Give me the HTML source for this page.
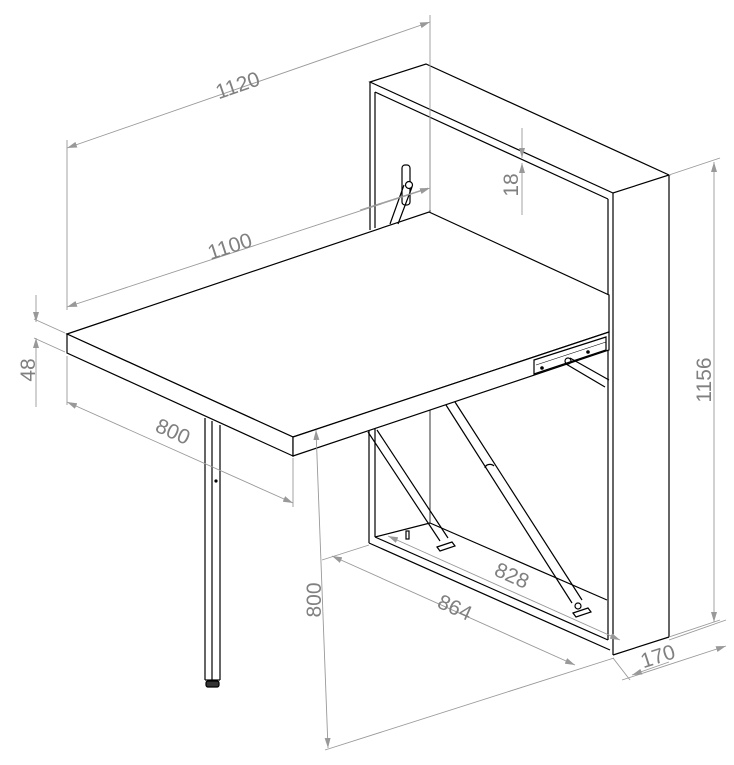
<!DOCTYPE html>
<html><head><meta charset="utf-8"><style>
html,body{margin:0;padding:0;background:#fff;}
svg{display:block;}
text{font-family:"Liberation Sans",sans-serif;font-size:21px;fill:#808080;}
</style></head><body>
<svg width="734" height="765" viewBox="0 0 734 765" xmlns="http://www.w3.org/2000/svg">
<defs>
<marker id="a" viewBox="0 0 10 6" refX="10" refY="3" markerWidth="10" markerHeight="6" orient="auto-start-reverse" markerUnits="userSpaceOnUse"><path d="M0,0 L10,3 L0,6 Z" fill="#999"/></marker>
</defs>
<g stroke="#000" stroke-width="1.2" fill="none">
<polygon points="370,82 426,64 669,175 613,193" fill="#fff"/>
<line x1="613" y1="193" x2="613" y2="655"/>
<line x1="669" y1="175" x2="669" y2="637"/>
<line x1="613" y1="655" x2="669" y2="637"/>
<line x1="370" y1="82" x2="370" y2="230"/>
<line x1="375" y1="92" x2="375" y2="228"/>
<line x1="375" y1="92" x2="608" y2="199"/>
<line x1="608" y1="199" x2="608" y2="640"/>
<line x1="430" y1="118" x2="430" y2="212" stroke-width="0.8"/>
<line x1="369" y1="430" x2="369" y2="543"/>
<line x1="375" y1="428" x2="375" y2="537"/>
<line x1="369" y1="543" x2="610" y2="650"/>
<line x1="375" y1="537" x2="608" y2="640"/>
<line x1="375" y1="537" x2="430" y2="523"/>
<line x1="430" y1="410" x2="430" y2="523" stroke-width="0.8"/>
<line x1="430" y1="523" x2="607" y2="600"/>
<polygon points="67,334 429,212 609,295 609,332 293,437" fill="#fff"/>
<polygon points="67,334 293,437 293,456 67,353" fill="#fff"/>
<polygon points="293,437 609,332 609,350 293,456" fill="#fff"/>
<polygon points="534,360 606,337 606,350 534,374" fill="#fff"/>
<line x1="536" y1="365" x2="606" y2="342" stroke-width="0.6"/>
<circle cx="542" cy="368" r="1.2" fill="#000"/><circle cx="588" cy="352" r="1.2" fill="#000"/>
<circle cx="568" cy="361" r="3"/>
<line x1="570" y1="358" x2="609" y2="380"/><line x1="566" y1="364" x2="605" y2="387"/>
<rect x="402" y="165" width="8" height="40" rx="3" fill="#fff"/>
<line x1="404" y1="185" x2="390" y2="224"/><line x1="412" y1="187" x2="398" y2="224"/>
<circle cx="409" cy="185" r="3.5" fill="#fff"/>
<line x1="368" y1="432" x2="440" y2="541"/><line x1="377" y1="430" x2="448" y2="538"/>
<polygon points="437,547 452,542 455,546 440,551" fill="#fff"/>
<line x1="446" y1="405" x2="572" y2="603"/><line x1="455" y1="402" x2="582" y2="600"/>
<path d="M485,468 a5,4 0 0 1 9,-2"/>
<polygon points="573,613 588,608 591,612 576,617" fill="#fff"/>
<circle cx="578" cy="606" r="3"/>
<rect x="406" y="531" width="3" height="8"/>
<line x1="205" y1="418" x2="205" y2="680"/>
<line x1="212" y1="421" x2="212" y2="680"/>
<line x1="220" y1="425" x2="220" y2="680"/>
<line x1="205" y1="680" x2="220" y2="680"/>
<rect x="206" y="681" width="13" height="6" rx="2" fill="#333"/>
<circle cx="216" cy="481" r="1" fill="#000"/>
</g>
<g stroke="#999" stroke-width="0.9" fill="none">
<line x1="67" y1="140" x2="67" y2="310"/>
<line x1="430" y1="15" x2="430" y2="210"/>
<line x1="67" y1="148" x2="430" y2="22" marker-start="url(#a)" marker-end="url(#a)"/>
<line x1="67" y1="307" x2="430" y2="188" marker-start="url(#a)" marker-end="url(#a)"/>
<line x1="34" y1="319" x2="65" y2="333"/><line x1="34" y1="338" x2="65" y2="352"/>
<line x1="36" y1="295" x2="36" y2="322" marker-end="url(#a)"/>
<line x1="36" y1="407" x2="36" y2="338" marker-end="url(#a)"/>
<line x1="67" y1="356" x2="67" y2="405"/>
<line x1="293" y1="458" x2="293" y2="507"/>
<line x1="67" y1="402" x2="293" y2="503" marker-start="url(#a)" marker-end="url(#a)"/>
<line x1="316" y1="430" x2="328" y2="748" marker-start="url(#a)" marker-end="url(#a)"/>
<line x1="325" y1="750" x2="614" y2="658"/>
<line x1="322" y1="560" x2="369" y2="545"/>
<line x1="332" y1="556" x2="575" y2="665" marker-start="url(#a)" marker-end="url(#a)"/>
<line x1="388" y1="536" x2="620" y2="640" marker-start="url(#a)" marker-end="url(#a)"/>
<line x1="613" y1="658" x2="630" y2="680"/>
<line x1="669" y1="640" x2="726" y2="620"/>
<line x1="622" y1="680" x2="726" y2="646" marker-end="url(#a)"/>
<line x1="669" y1="662" x2="632" y2="675" marker-end="url(#a)"/>
<line x1="669" y1="175" x2="720" y2="158"/>
<line x1="669" y1="637" x2="720" y2="620"/>
<line x1="714" y1="162" x2="714" y2="622" marker-start="url(#a)" marker-end="url(#a)"/>
<line x1="522" y1="128" x2="522" y2="158" marker-end="url(#a)"/>
<line x1="522" y1="215" x2="522" y2="163" marker-end="url(#a)"/>
<line x1="360" y1="210" x2="428" y2="188"/>
</g>
<text transform="translate(240,92) rotate(-19)" text-anchor="middle">1120</text>
<text transform="translate(232,253) rotate(-18)" text-anchor="middle">1100</text>
<text transform="translate(35,370) rotate(-90)" text-anchor="middle">48</text>
<text transform="translate(170,438) rotate(24)" text-anchor="middle">800</text>
<text transform="translate(321,600) rotate(-90)" text-anchor="middle">800</text>
<text transform="translate(452,614) rotate(24)" text-anchor="middle">864</text>
<text transform="translate(509,582) rotate(24)" text-anchor="middle">828</text>
<text transform="translate(660,663) rotate(-18)" text-anchor="middle">170</text>
<text transform="translate(711,380) rotate(-90)" text-anchor="middle">1156</text>
<text transform="translate(518,185) rotate(-90)" text-anchor="middle">18</text>
</svg>
</body></html>
